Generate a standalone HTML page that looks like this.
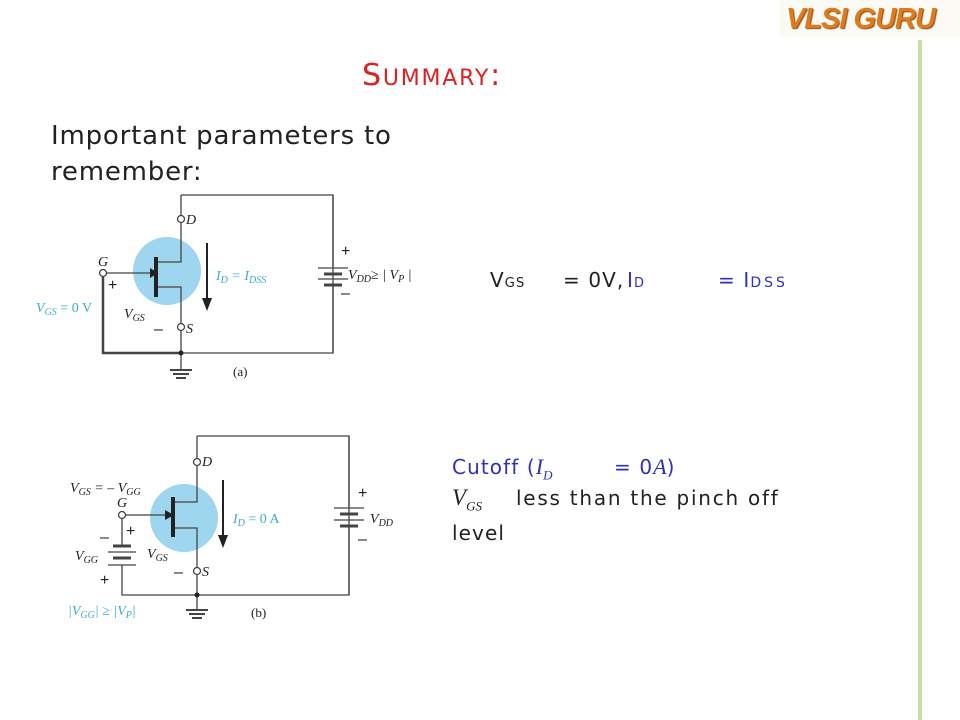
<!DOCTYPE html>
<html><head><meta charset="utf-8"><style>
body{margin:0;width:960px;height:720px;background:#fff;position:relative;overflow:hidden;font-family:"DejaVu Sans",sans-serif}
.t{position:absolute;white-space:nowrap}
.b{font-size:20px;letter-spacing:1.1px;color:#222}
.bl{color:#3030c0}
.m{font-family:"Liberation Serif",serif;font-style:italic;letter-spacing:0}
</style></head><body>
<div style="position:absolute;left:780px;top:0;width:180px;height:38px;background:#fbfaf5"></div>
<div class="t" style="left:786px;top:3px;font:italic bold 29px 'Liberation Sans',sans-serif;color:#e07a1a;letter-spacing:-1px;text-shadow:1px 1px 1px #8a4a10">VLSI GURU</div>
<div style="position:absolute;left:918px;top:40px;width:4px;height:680px;background:#c6dea0"></div>
<div class="t" style="left:362px;top:58px;font-size:30px;color:#e02020;letter-spacing:1.8px">S<span style="font-size:22px">UMMARY</span>:</div>
<div class="t" style="left:51px;top:118px;font-size:26px;letter-spacing:0.8px;line-height:36px;color:#222">Important parameters to<br>remember:</div>
<div class="t b" style="left:490px;top:268px">V<span style="font-size:13px">GS</span></div>
<div class="t b" style="left:563px;top:268px">= 0V,</div>
<div class="t b bl" style="left:627px;top:268px">I<span style="font-size:13px">D</span></div>
<div class="t b bl" style="left:718px;top:268px">= I<span style="font-size:14px;letter-spacing:3px">DSS</span></div>
<div class="t b bl" style="left:452px;top:454px">Cutoff (<span class="m" style="font-size:22px">I<sub style="font-size:13px">D</sub></span></div>
<div class="t b bl" style="left:614px;top:454px">= 0<span class="m" style="font-size:22px">A</span>)</div>
<div class="t b" style="left:452px;top:485px"><span class="m" style="font-size:23px">V<sub style="font-size:13px">GS</sub></span></div>
<div class="t b" style="left:516px;top:486px;letter-spacing:1.75px">less than the pinch off</div>
<div class="t b" style="left:452px;top:521px">level</div>
<svg width="960" height="720" style="position:absolute;left:0;top:0" font-family="Liberation Serif,serif" font-style="italic">
<g stroke="#444" stroke-width="1.3" fill="none">
<circle cx="167" cy="271" r="34" fill="#9fd6ef" stroke="none"/>
<path d="M181,195 H333 V353 H181 M181,195 V215 M181,223 V262 H157 M157,287 H181 V323 M181,331 V370"/>
<path d="M103,277 V353 H181" stroke-width="2.5"/>
<path d="M107,273 H150"/>
<circle cx="181" cy="219" r="3.5" fill="#fff"/><circle cx="181" cy="327" r="3.5" fill="#fff"/><circle cx="103" cy="273" r="3.5" fill="#fff"/>
<line x1="156" y1="257" x2="156" y2="297" stroke="#222" stroke-width="4"/>
<line x1="207" y1="243" x2="207" y2="300" stroke="#222" stroke-width="2"/>
<path d="M333,195 V268 M333,285 V353"/>
<line x1="318" y1="268" x2="348" y2="268"/><line x1="324" y1="274" x2="342" y2="274" stroke-width="3"/><line x1="318" y1="279" x2="348" y2="279"/><line x1="324" y1="285" x2="342" y2="285" stroke-width="3"/>
<line x1="170" y1="370" x2="192" y2="370" stroke-width="2"/><line x1="173" y1="374" x2="189" y2="374" stroke-width="2"/><line x1="176" y1="378" x2="186" y2="378" stroke-width="2"/>
</g>
<polygon points="150,268 158,273 150,278" fill="#222"/><polygon points="202,298 212,298 207,311" fill="#222"/>
<circle cx="181" cy="353" r="2.5" fill="#222"/>
<g font-size="14" fill="#222"><text x="186" y="224">D</text><text x="186" y="333">S</text><text x="98" y="266">G</text><text x="124" y="318">V<tspan font-size="10" dy="3">GS</tspan></text><text x="348" y="279">V<tspan font-size="10" dy="3">DD</tspan><tspan dy="-3">≥ | V</tspan><tspan font-size="10" dy="3">P</tspan><tspan dy="-3"> |</tspan></text></g>
<g font-size="16" fill="#222" font-style="normal" font-family="Liberation Sans"><text x="108" y="290">+</text><text x="154" y="334">–</text><text x="341" y="256">+</text><text x="341" y="298">–</text><text x="233" y="376" font-family="Liberation Serif" font-size="13">(a)</text></g>
<g font-size="14" fill="#3aaed0"><text x="216" y="280">I<tspan font-size="10" dy="3">D</tspan><tspan dy="-3"> = I</tspan><tspan font-size="10" dy="3">DSS</tspan></text><text x="36" y="312">V<tspan font-size="10" dy="3">GS</tspan><tspan dy="-3" font-style="normal"> = 0 V</tspan></text></g>

<g stroke="#444" stroke-width="1.3" fill="none">
<circle cx="184" cy="518" r="34" fill="#9fd6ef" stroke="none"/>
<path d="M197,436 H349 V595 H197 M197,436 V458 M197,466 V502 H174 M174,528 H197 V567 M197,575 V610"/>
<path d="M122,519 V546 M122,565 V595 H197"/>
<path d="M126,515 H167"/>
<circle cx="197" cy="462" r="3.5" fill="#fff"/><circle cx="197" cy="571" r="3.5" fill="#fff"/><circle cx="122" cy="515" r="3.5" fill="#fff"/>
<line x1="173" y1="497" x2="173" y2="537" stroke="#222" stroke-width="4"/>
<line x1="223" y1="480" x2="223" y2="537" stroke="#222" stroke-width="2"/>
<path d="M349,436 V508 M349,527 V595"/>
<line x1="334" y1="508" x2="364" y2="508"/><line x1="340" y1="514" x2="358" y2="514" stroke-width="3"/><line x1="334" y1="520" x2="364" y2="520"/><line x1="340" y1="526" x2="358" y2="526" stroke-width="3"/>
<line x1="113" y1="546" x2="131" y2="546" stroke-width="3"/><line x1="108" y1="552" x2="136" y2="552"/><line x1="113" y1="558" x2="131" y2="558" stroke-width="3"/><line x1="108" y1="565" x2="136" y2="565"/>
<line x1="186" y1="610" x2="208" y2="610" stroke-width="2"/><line x1="189" y1="614" x2="205" y2="614" stroke-width="2"/><line x1="192" y1="618" x2="202" y2="618" stroke-width="2"/>
</g>
<polygon points="165,510 174,515 165,520" fill="#222"/><polygon points="218,535 228,535 223,548" fill="#222"/>
<circle cx="197" cy="595" r="2.5" fill="#222"/>
<g font-size="14" fill="#222"><text x="202" y="466">D</text><text x="202" y="576">S</text><text x="117" y="507">G</text><text x="147" y="558">V<tspan font-size="10" dy="3">GS</tspan></text><text x="75" y="560">V<tspan font-size="10" dy="3">GG</tspan></text><text x="70" y="492">V<tspan font-size="10" dy="3">GS</tspan><tspan dy="-3"> = – V</tspan><tspan font-size="10" dy="3">GG</tspan></text><text x="370" y="523">V<tspan font-size="10" dy="3">DD</tspan></text></g>
<g font-size="16" fill="#222" font-style="normal" font-family="Liberation Sans"><text x="126" y="536">+</text><text x="100" y="542">–</text><text x="100" y="585">+</text><text x="174" y="577">–</text><text x="358" y="498">+</text><text x="358" y="544">–</text><text x="251" y="617" font-family="Liberation Serif" font-size="13">(b)</text></g>
<g font-size="14" fill="#3aaed0"><text x="233" y="523">I<tspan font-size="10" dy="3">D</tspan><tspan dy="-3" font-style="normal"> = 0 A</tspan></text><text x="68" y="615">|V<tspan font-size="10" dy="3">GG</tspan><tspan dy="-3">| ≥ |V</tspan><tspan font-size="10" dy="3">P</tspan><tspan dy="-3">|</tspan></text></g>
</svg>
</body></html>
